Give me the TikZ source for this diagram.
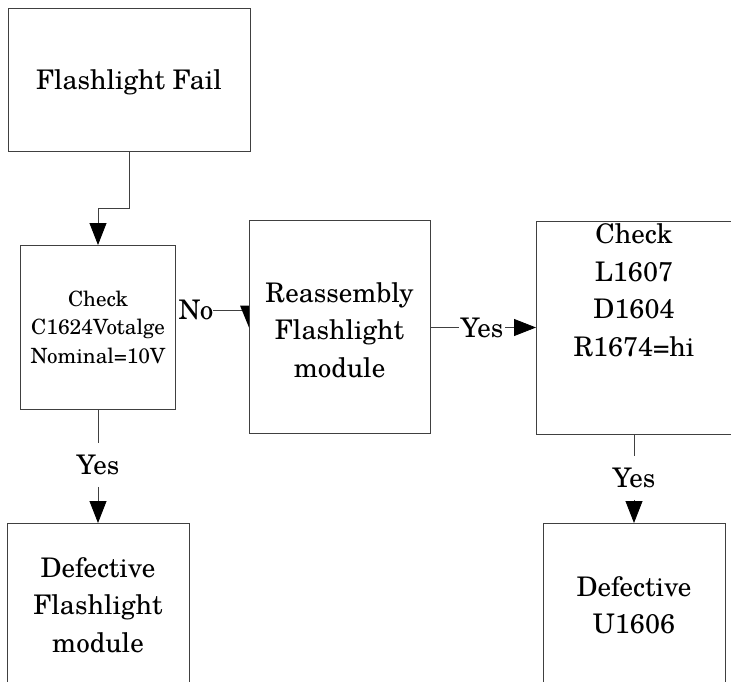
\documentclass[tikz,border=0pt]{standalone}
\usepackage{fontspec}
\setmainfont{texgyreschola-regular.otf}
\usetikzlibrary{arrows.meta,calc}
\begin{document}
\begin{tikzpicture}[x=1pt,y=-1pt,
  box/.style={draw=black!75, line width=0.8pt, fill=white, inner sep=0pt, outer sep=0pt},
  big/.style={font=\fontsize{27}{37.5}\selectfont, align=center, inner sep=0pt},
  small/.style={font=\fontsize{21}{28.5}\selectfont, align=center},
  lbl/.style={font=\fontsize{27}{37.5}\selectfont, inner xsep=2pt, inner ysep=12pt, outer sep=0pt},
  conn/.style={draw=black!75, line width=0.8pt},
  arr/.style={conn, -{Triangle[length=22pt,width=17pt,color=black]}}]
\useasboundingbox (0,0) rectangle (731,681);
\clip (0,0) rectangle (731,681);
\fill[white] (0,0) rectangle (731,681);

\node[box,big,text depth=0pt,minimum width=242,minimum height=143] (fail) at (129,79.5) {Flashlight Fail};
\node[box,small,minimum width=155,minimum height=164] (chk1) at (98,327) {Check\\C1624Votalge\\Nominal=10V};
\node[box,minimum width=181,minimum height=213] (reasm) at (339.5,327) {};
\node[big] (reasmt) at (339.5,330) {Reassembly\\Flashlight\\module};
\node[box,minimum width=196,minimum height=213] (chk2) at (634,327.5) {};
\node[big] (chk2t) at (634,290) {Check\\L1607\\D1604\\R1674=hi};
\node[box,minimum width=182,minimum height=170] (def1) at (98,608) {};
\node[big] (def1t) at (98,605) {Defective\\Flashlight\\module};
\node[box,minimum width=182,minimum height=170] (def2) at (634,608) {};
\node[big] (def2t) at (634,605) {Defective\\U1606};

\node[lbl,inner xsep=0pt] (no) at (196,310) {No};
\node[lbl] (yes1) at (482,327.5) {Yes};
\node[lbl] (yes2) at (98,465) {Yes};
\node[lbl] (yes3) at (634,478) {Yes};

\draw[arr] (fail.south) -- ++(0,57) -| (chk1.north);
\draw[conn] (no.east) -- (reasm.west |- no.east);
\fill ($(reasm.north west)+(-9,85)$) -- ($(reasm.north west)+(0,85)$) -- ($(reasm.north west)+(0,107)$) -- cycle;
\draw[conn] (reasm.east |- yes1.west) -- (yes1.west);
\draw[arr] (yes1.east) -- (chk2.west |- yes1.east);
\draw[conn] (chk1.south) -- (yes2.north);
\draw[arr] (yes2.south) -- (def1.north);
\draw[conn] (chk2.south) -- (yes3.north);
\draw[arr] (yes3.south) -- (def2.north);
\end{tikzpicture}
\end{document}
